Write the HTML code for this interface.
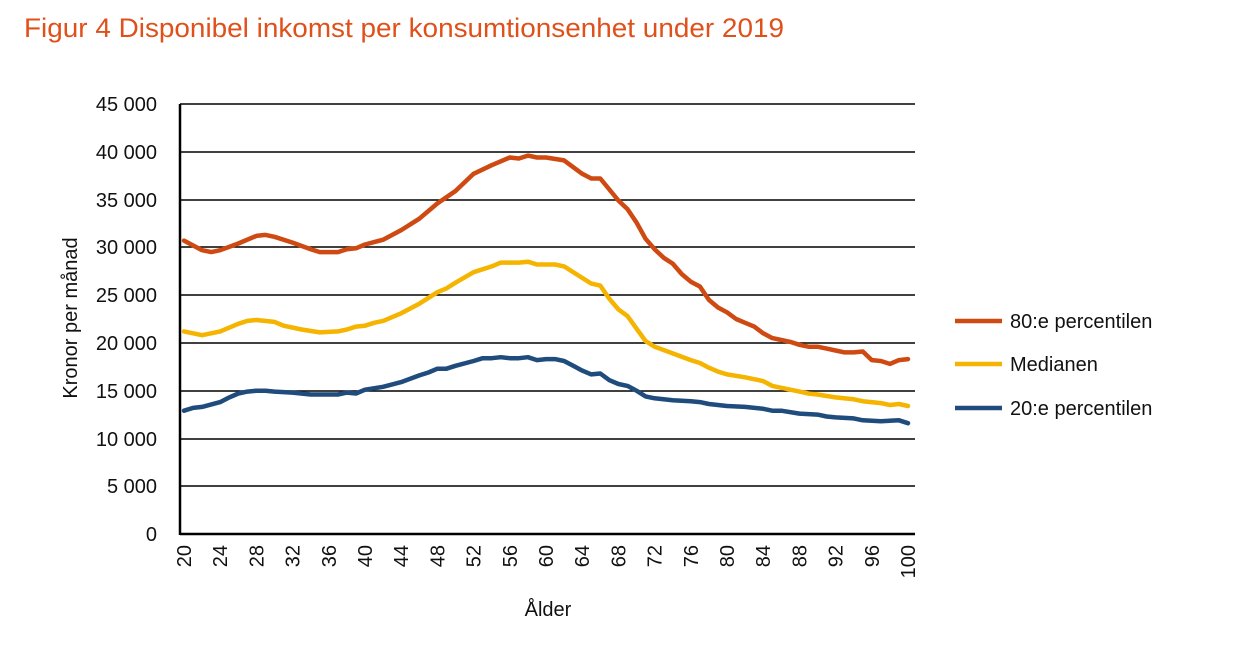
<!DOCTYPE html>
<html><head><meta charset="utf-8"><style>
body{margin:0;background:#fff;}
svg{display:block;font-family:"Liberation Sans",sans-serif;}
</style></head><body>
<svg width="1236" height="651" viewBox="0 0 1236 651" xmlns="http://www.w3.org/2000/svg">
<text x="24" y="37" font-size="27" fill="#e0501a" textLength="760" lengthAdjust="spacingAndGlyphs">Figur 4 Disponibel inkomst per konsumtionsenhet under 2019</text>
<g stroke="#000" stroke-width="1.5">
<line x1="180" x2="915" y1="104" y2="104"/><line x1="180" x2="915" y1="152" y2="152"/>
<line x1="180" x2="915" y1="200" y2="200"/><line x1="180" x2="915" y1="247" y2="247"/>
<line x1="180" x2="915" y1="295" y2="295"/><line x1="180" x2="915" y1="343" y2="343"/>
<line x1="180" x2="915" y1="391" y2="391"/><line x1="180" x2="915" y1="439" y2="439"/>
<line x1="180" x2="915" y1="486" y2="486"/>
</g>
<line x1="180" x2="915" y1="534" y2="534" stroke="#000" stroke-width="2.5"/>
<line x1="180" x2="180" y1="104" y2="535" stroke="#000" stroke-width="2.5"/>
<g font-size="20" text-anchor="end" fill="#111">
<text x="157" y="111">45 000</text><text x="157" y="159">40 000</text><text x="157" y="207">35 000</text>
<text x="157" y="254">30 000</text><text x="157" y="302">25 000</text><text x="157" y="350">20 000</text>
<text x="157" y="398">15 000</text><text x="157" y="446">10 000</text><text x="157" y="493">5 000</text>
<text x="157" y="541">0</text>
</g>
<g font-size="20" fill="#111" id="xl"></g>
<text transform="translate(77,318) rotate(-90)" font-size="20" text-anchor="middle" fill="#111">Kronor per månad</text>
<text x="548" y="616" font-size="20" text-anchor="middle" fill="#111">Ålder</text>
<g id="lines" fill="none" stroke-width="4.5" stroke-linejoin="round" stroke-linecap="round"></g>
<line x1="955" x2="1002" y1="321" y2="321" stroke="#cf4a12" stroke-width="4.5"/>
<text x="1010" y="328" font-size="20" fill="#111">80:e percentilen</text>
<line x1="955" x2="1002" y1="364" y2="364" stroke="#f5b400" stroke-width="4.5"/>
<text x="1010" y="371" font-size="20" fill="#111">Medianen</text>
<line x1="955" x2="1002" y1="408" y2="408" stroke="#1f4c7c" stroke-width="4.5"/>
<text x="1010" y="415" font-size="20" fill="#111">20:e percentilen</text>
</svg>
<script>
var NS="http://www.w3.org/2000/svg";
function X(a){return 184+(a-20)*9.05;}
function Y(v){return 534-v*430/45000;}
var xl=document.getElementById("xl");
for(var a=20;a<=100;a+=4){var t=document.createElementNS(NS,"text");t.setAttribute("transform","translate("+(X(a)+7)+",545) rotate(-90)");t.setAttribute("text-anchor","end");t.textContent=a;xl.appendChild(t);}
var d={
"#cf4a12":[[20,30700],[22,29700],[23,29500],[24,29700],[26,30400],[28,31200],[29,31300],[30,31100],[32,30500],[34,29800],[35,29500],[37,29500],[38,29800],[39,29900],[40,30300],[42,30800],[44,31800],[46,33000],[48,34600],[50,35900],[52,37700],[54,38600],[56,39400],[57,39300],[58,39600],[59,39400],[60,39400],[62,39100],[64,37700],[65,37200],[66,37200],[68,34900],[69,34000],[70,32600],[71,30900],[72,29800],[73,28900],[74,28300],[75,27200],[76,26400],[77,25900],[78,24500],[79,23700],[80,23200],[81,22500],[82,22100],[83,21700],[84,21000],[85,20500],[86,20300],[87,20100],[88,19800],[89,19600],[90,19600],[91,19400],[92,19200],[93,19000],[94,19000],[95,19100],[96,18200],[97,18100],[98,17800],[99,18200],[100,18300]],
"#f5b400":[[20,21200],[22,20800],[24,21200],[26,22000],[27,22300],[28,22400],[30,22200],[31,21800],[33,21400],[35,21100],[37,21200],[38,21400],[39,21700],[40,21800],[41,22100],[42,22300],[44,23100],[46,24100],[48,25300],[49,25700],[50,26300],[52,27400],[54,28000],[55,28400],[57,28400],[58,28500],[59,28200],[61,28200],[62,28000],[64,26800],[65,26200],[66,26000],[67,24600],[68,23500],[69,22800],[70,21500],[71,20200],[72,19600],[74,18900],[76,18200],[77,17900],[78,17400],[79,17000],[80,16700],[82,16400],[84,16000],[85,15500],[86,15300],[88,14900],[89,14700],[90,14600],[92,14300],[94,14100],[95,13900],[97,13700],[98,13500],[99,13600],[100,13400]],
"#1f4c7c":[[20,12900],[21,13200],[22,13300],[24,13800],[25,14300],[26,14700],[27,14900],[28,15000],[29,15000],[30,14900],[32,14800],[34,14600],[36,14600],[37,14600],[38,14800],[39,14700],[40,15100],[42,15400],[44,15900],[46,16600],[47,16900],[48,17300],[49,17300],[50,17600],[52,18100],[53,18400],[54,18400],[55,18500],[56,18400],[57,18400],[58,18500],[59,18200],[60,18300],[61,18300],[62,18100],[63,17600],[64,17100],[65,16700],[66,16800],[67,16100],[68,15700],[69,15500],[70,15000],[71,14400],[72,14200],[74,14000],[76,13900],[77,13800],[78,13600],[80,13400],[82,13300],[84,13100],[85,12900],[86,12900],[88,12600],[90,12500],[91,12300],[92,12200],[94,12100],[95,11900],[97,11800],[99,11900],[100,11600]]};
var g=document.getElementById("lines");
for(var c in d){var p=document.createElementNS(NS,"polyline");p.setAttribute("stroke",c);p.setAttribute("points",d[c].map(function(q){return X(q[0]).toFixed(1)+","+Y(q[1]).toFixed(1);}).join(" "));g.appendChild(p);}
</script>
</body></html>
